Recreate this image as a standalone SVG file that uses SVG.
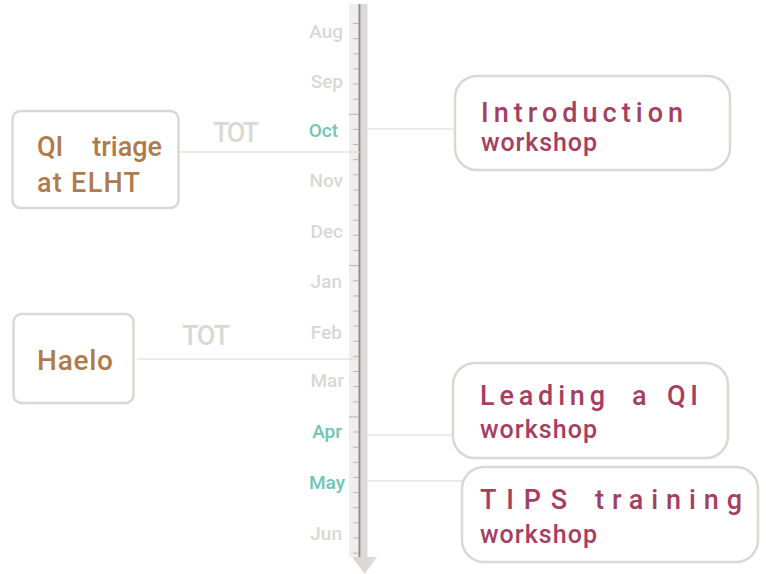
<svg xmlns="http://www.w3.org/2000/svg" width="766" height="574" viewBox="0 0 766 574">
<style>
text{font-family:Roboto,"Liberation Sans",sans-serif;font-weight:500}
.m{font-size:19px;fill:#dbd7d3;text-anchor:end}
.mh{fill:#6ec6b5}
.tot{font-size:27px;fill:#dbd7d3}
.br{font-size:27px;fill:#b07b4c}
.mg{font-size:27px;fill:#a63e62}
.ws{font-size:25px;fill:#a63e62}
.box{fill:#fff;stroke:#dbd7d3;stroke-width:2.5}
.con{stroke:#dbd7d3;stroke-width:1.2;fill:none}
</style>
<rect width="766" height="574" fill="#fff"/>
<g id="timeline">
<rect x="349" y="4" width="10" height="553" fill="#eeeeee"/>
<rect x="360.5" y="4" width="7" height="553" fill="#ddd9d5"/>
<line x1="359.5" y1="4" x2="359.5" y2="557" stroke="#8c8c8c" stroke-width="2"/>
<path d="M352 557H377L364.5 574Z" fill="#dcd8d4"/>
<path stroke="#b5b5b5" stroke-width="1" fill="none" d="M353 23.5h6M353 38.7h6M353 53.8h6M353 68.9h6M353 84h6M353 99.2h6M349 114.3h10M353 129.4h6M353 144.6h6M353 159.7h6M353 174.8h6M353 190h6M353 205.1h6M353 220.2h6M353 235.3h6M353 250.5h6M349 265.6h10M353 280.7h6M353 295.9h6M353 311h6M353 326.1h6M353 341.3h6M353 356.4h6M353 371.5h6M353 386.6h6M353 401.8h6M349 416.9h10M353 432h6M353 447.2h6M353 462.3h6M353 477.4h6M353 492.6h6M353 507.7h6M353 522.8h6M353 537.9h6M353 553.1h6"/>
<text class="m" x="343" y="38">Aug</text>
<text class="m" x="343" y="88">Sep</text>
<text class="m mh" x="338" y="137">Oct</text>
<text class="m" x="343" y="187">Nov</text>
<text class="m" x="343" y="238">Dec</text>
<text class="m" x="342" y="288">Jan</text>
<text class="m" x="342" y="339">Feb</text>
<text class="m" x="344" y="387">Mar</text>
<text class="m mh" x="342" y="438">Apr</text>
<text class="m mh" x="345" y="489">May</text>
<text class="m" x="342" y="540">Jun</text>
</g>
<g id="connectors">
<line class="con" x1="179" y1="152" x2="360" y2="152"/>
<line class="con" x1="137" y1="359" x2="359" y2="359"/>
<line class="con" x1="367" y1="129" x2="455" y2="129"/>
<line class="con" x1="462" y1="158" x2="472" y2="158"/>
<line class="con" x1="367" y1="435" x2="453" y2="435"/>
<line class="con" x1="367" y1="481" x2="464" y2="481"/>
<text class="tot" x="213" y="142" textLength="46">TOT</text>
<text class="tot" x="182" y="345" textLength="48">TOT</text>
</g>
<g id="qi-triage">
<rect class="box" x="12.5" y="111" width="166" height="97" rx="8"/>
<text class="br" x="37" y="156">QI</text>
<text class="br" x="162" y="156" text-anchor="end">triage</text>
<text class="br" x="37" y="192" textLength="103">at ELHT</text>
</g>
<g id="haelo">
<rect class="box" x="13.5" y="314" width="120" height="89" rx="8"/>
<text class="br" x="37" y="370" style="font-size:28px" textLength="76">Haelo</text>
</g>
<g id="introduction">
<rect class="box" x="455" y="76" width="275" height="94" rx="22"/>
<text class="mg" x="481" y="122" textLength="202" lengthAdjust="spacing">Introduction</text>
<text class="ws" x="481" y="151" textLength="116">workshop</text>
</g>
<g id="leading">
<rect class="box" x="453" y="363" width="275" height="95" rx="22"/>
<text class="mg" x="480" y="405" textLength="125" lengthAdjust="spacing">Leading</text>
<text class="mg" x="632" y="405">a</text>
<text class="mg" x="667" y="405" textLength="31">QI</text>
<text class="ws" x="480" y="438" textLength="117">workshop</text>
</g>
<g id="tips">
<rect class="box" x="462" y="467" width="296" height="95" rx="22"/>
<text class="mg" x="480" y="509" textLength="87" lengthAdjust="spacing">TIPS</text>
<text class="mg" x="595" y="509" textLength="147" lengthAdjust="spacing">training</text>
<text class="ws" x="480" y="543" textLength="117">workshop</text>
</g>
</svg>
